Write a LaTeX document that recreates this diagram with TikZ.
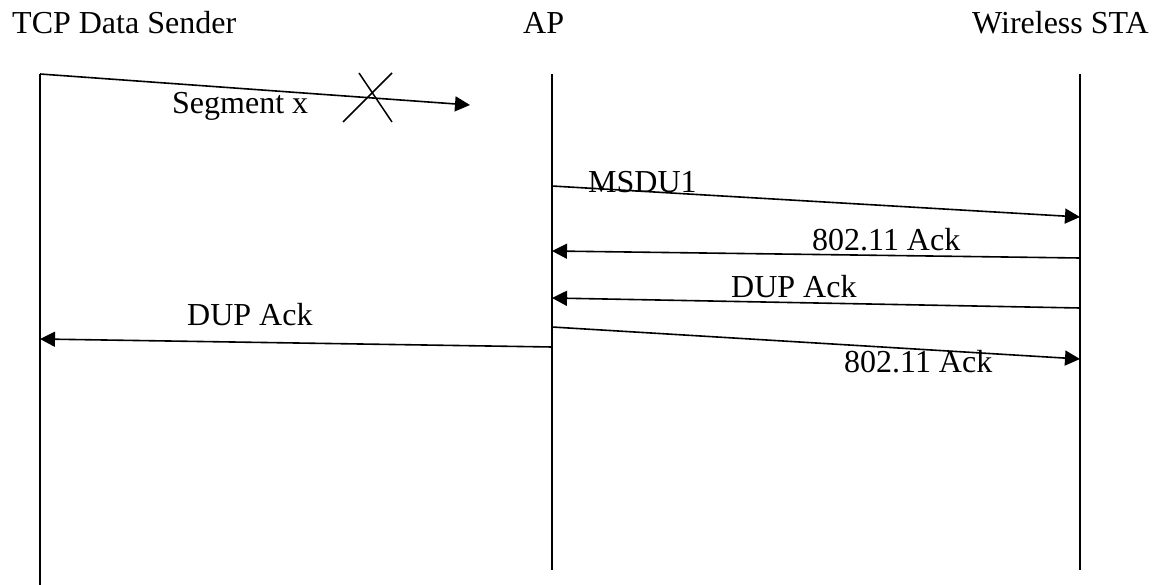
\documentclass[tikz,border=0pt]{standalone}
\usepackage{fontspec}
\setmainfont{Liberation Serif}
\usetikzlibrary{arrows.meta}
\begin{document}
\begin{tikzpicture}[x=1pt,y=-1pt,
  lbl/.style={inner sep=0pt, anchor=base west, font=\fontsize{32}{38}\selectfont},
  life/.style={line width=2pt},
  msg/.style={line width=1.6pt, -{Triangle[length=15pt,width=15pt]}},
  cross/.style={line width=1.5pt}]
\useasboundingbox (0,0) rectangle (1163,585);
% headers
\node[lbl] (hS) at (12,34) {TCP Data Sender};
\node[lbl] (hA) at (523,34) {AP};
\node[lbl] (hW) at (972,34) {Wireless STA};
% lifelines
\coordinate (Stop) at (40,74);  \coordinate (Sbot) at (40,585);
\coordinate (Atop) at (552,74); \coordinate (Abot) at (552,570);
\coordinate (Wtop) at (1080,74); \coordinate (Wbot) at (1080,570);
\draw[life] (Sbot) -- (Stop);
\draw[life] (Atop) -- (Abot);
\draw[life] (Wtop) -- (Wbot);
% Segment x (lost)
\coordinate (segEnd) at (470,105);
\draw[msg] (Stop) -- (segEnd);
\node[lbl] (segL) at (172,114) {Segment x};
\coordinate (x1a) at (359,73); \coordinate (x1b) at (392,122);
\coordinate (x2a) at (392,73); \coordinate (x2b) at (343,122);
\draw[cross] (x1a) -- (x1b);
\draw[cross] (x2a) -- (x2b);
% MSDU1
\coordinate (m1s) at (552,186); \coordinate (m1e) at (1080,217);
\draw[msg] (m1s) -- (m1e);
\node[lbl] (m1L) at (588,193) {MSDU1};
% 802.11 Ack (STA -> AP)
\coordinate (a1s) at (1080,258); \coordinate (a1e) at (552,251);
\draw[msg] (a1s) -- (a1e);
\node[lbl] (a1L) at (812,251) {802.11 Ack};
% DUP Ack (STA -> AP)
\coordinate (d1s) at (1080,308); \coordinate (d1e) at (552,298);
\draw[msg] (d1s) -- (d1e);
\node[lbl] (d1L) at (731,298) {DUP Ack};
% DUP Ack (AP -> Sender)
\coordinate (d2s) at (552,347); \coordinate (d2e) at (40,339);
\draw[msg] (d2s) -- (d2e);
\node[lbl] (d2L) at (187,326) {DUP Ack};
% 802.11 Ack (AP -> STA)
\coordinate (a2s) at (552,327); \coordinate (a2e) at (1080,359);
\draw[msg] (a2s) -- (a2e);
\node[lbl] (a2L) at (844,373) {802.11 Ack};
\end{tikzpicture}
\end{document}
